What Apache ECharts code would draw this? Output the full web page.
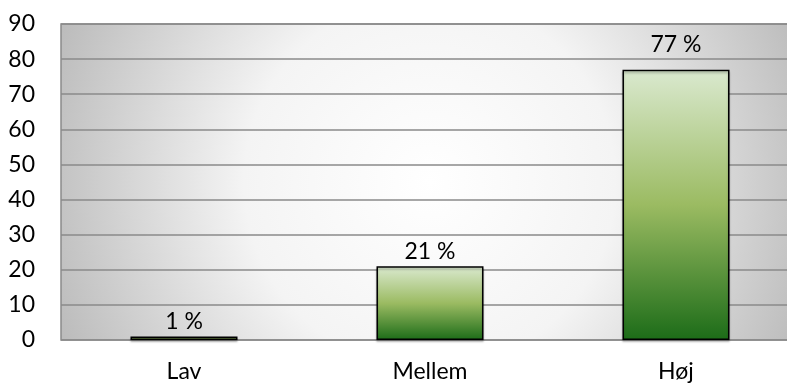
<!DOCTYPE html>
<html><head><meta charset="utf-8">
<script src="https://cdn.jsdelivr.net/npm/echarts@6/dist/echarts.min.js"></script>
<style>html,body{margin:0;padding:0;background:#fff}#c{width:787px;height:388px}</style>
</head><body><div id="c"></div>
<script>
const categories = ['Lav', 'Mellem', 'Høj'];
const values = [1, 21, 77];
const yTicks = [0, 10, 20, 30, 40, 50, 60, 70, 80, 90];
const FONT = 'Lato, "Open Sans", sans-serif';
const chart = echarts.init(document.getElementById('c'), null, {renderer: 'canvas'});
chart.setOption({
  animation: false,
  grid: {
    left: 61, right: -12, top: 24, bottom: 48, show: true,
    outerBoundsMode: 'none', containLabel: false,
    borderColor: '#8a8a8a', borderWidth: 1.5,
    backgroundColor: {type: 'radial', x: 0.5, y: 0.5, r: 1.3,
      colorStops: [{offset: 0, color: '#ffffff'}, {offset: 0.45, color: '#f4f4f4'}, {offset: 1, color: '#b8b8b8'}]}
  },
  xAxis: {
    type: 'category', data: categories,
    axisLine: {show: false}, axisTick: {show: false},
    axisLabel: {color: '#000', fontFamily: FONT, fontSize: 23, margin: 20}
  },
  yAxis: {
    type: 'value', min: yTicks[0], max: yTicks[yTicks.length - 1], interval: 10,
    axisLine: {show: false}, axisTick: {show: false},
    axisLabel: {color: '#000', fontFamily: FONT, fontSize: 23, margin: 26},
    splitLine: {lineStyle: {color: '#8a8a8a', width: 1.5}}
  },
  series: [{
    type: 'bar',
    data: values.map((v, i) => i === values.length - 1 ? {value: v, label: {distance: 14}} : v),
    barWidth: '43.5%',
    itemStyle: {
      borderColor: '#000', borderWidth: 1.5,
      shadowColor: 'rgba(0,0,0,0.25)', shadowOffsetY: 2, shadowBlur: 2,
      color: {type: 'linear', x: 0, y: 0, x2: 0, y2: 1,
        colorStops: [{offset: 0, color: '#dae9cf'}, {offset: 0.5, color: '#9bbb62'}, {offset: 1, color: '#1c6c18'}]}
    },
    label: {show: true, position: 'top', distance: 3, color: '#000', fontFamily: FONT, fontSize: 23,
      formatter: p => p.value + ' %'}
  }]
});
</script></body></html>
